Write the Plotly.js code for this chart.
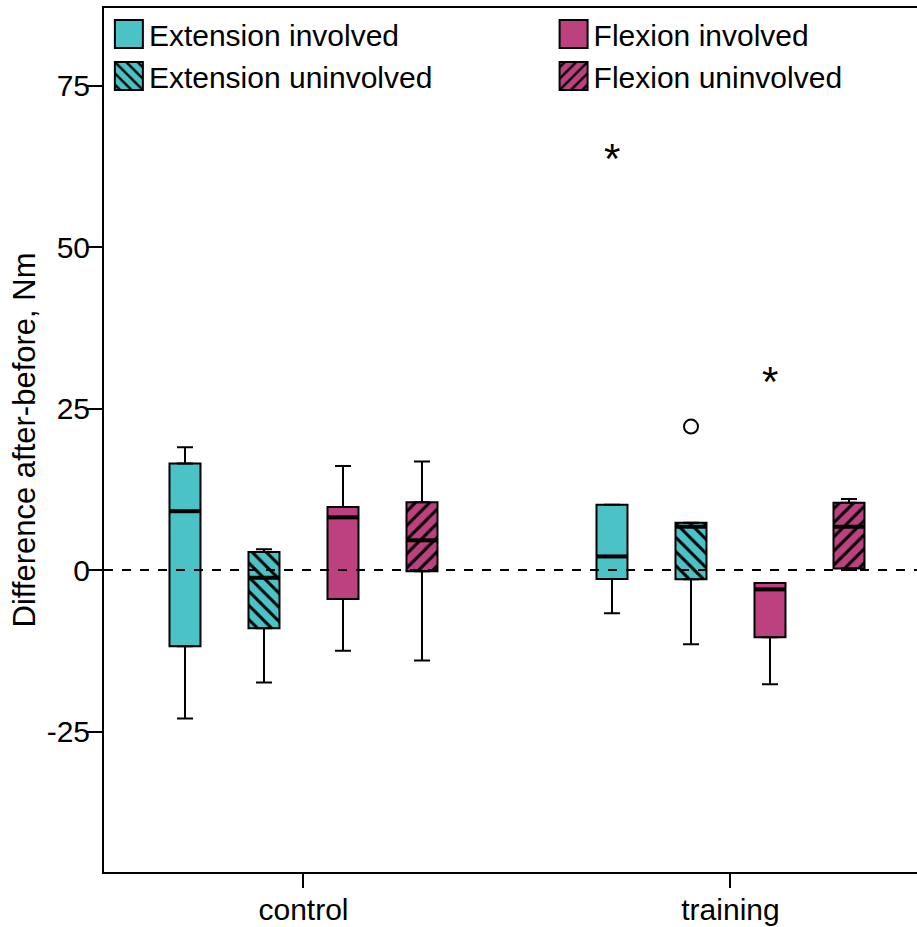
<!DOCTYPE html>
<html>
<head>
<meta charset="utf-8">
<script src="https://cdn.plot.ly/plotly-3.0.1.min.js"></script>
<style>
  html, body { margin: 0; padding: 0; background: #fff; }
  #chart { width: 917px; height: 927px; }
</style>
</head>
<body>
<div id="chart"></div>
<script>
// ---- Data ----
const categories = ['control', 'training'];
const seriesNames = ['Extension involved', 'Extension uninvolved', 'Flexion involved', 'Flexion uninvolved'];
// one row per series, one column per category
const lowerWhisker = [[-23.0, -6.7], [-17.4, -11.5], [-12.5, -17.7], [-14.0, 0.0]];
const quartile1    = [[-11.8, -1.4], [-9.0, -1.45], [-4.5, -10.4], [-0.2, 0.25]];
const medians      = [[9.1, 2.1], [-1.2, 6.7], [8.15, -3.0], [4.6, 6.7]];
const quartile3    = [[16.5, 10.1], [2.8, 7.3], [9.75, -2.0], [10.5, 10.4]];
const upperWhisker = [[19.0, 10.1], [3.2, 7.3], [16.1, -2.0], [16.8, 11.0]];
// outliers
const outlierSeries   = [0, 1, 2];
const outlierCategory = [1, 1, 1];
const outlierValues   = [64.5, 22.2, 29.9];
const outlierType     = ['extreme', 'outlier', 'extreme'];
const yTickValues = [-25, 0, 25, 50, 75];
const yTickLabels = ['-25', '0', '25', '50', '75'];
const yTitle = 'Difference after-before, Nm';

// ---- Styles ----
const fills = ['#4BC3C6', '#4BC3C6', '#BC417E', '#BC417E'];
const hatches = ['', '\\', '', '/'];
const legendIds = ['legend', 'legend', 'legend2', 'legend2'];
const spacing = 79 / 427;
const boxW = 31 / 427;
const FONT = '"Liberation Sans", Arial, Helvetica, sans-serif';
const xPos = (s, c) => c + (s - 1.5) * spacing;

const traces = [];
seriesNames.forEach((name, s) => {
  const xs = categories.map((_, c) => xPos(s, c));
  const marker = { color: fills[s], line: { color: 'black', width: 2 } };
  if (hatches[s]) {
    marker.pattern = { shape: hatches[s], fgcolor: 'black', bgcolor: fills[s], size: 10, solidity: 0.3, fillmode: 'replace' };
  }
  traces.push({
    type: 'bar', name: name, legend: legendIds[s],
    x: xs, base: quartile1[s],
    y: quartile3[s].map((v, i) => v - quartile1[s][i]),
    width: categories.map(() => boxW),
    marker: marker, hoverinfo: 'skip'
  });
});
seriesNames.forEach((name, s) => {
  const xs = categories.map((_, c) => xPos(s, c));
  traces.push({
    type: 'scatter', mode: 'markers', showlegend: false, hoverinfo: 'skip',
    x: xs, y: quartile3[s], marker: { opacity: 0, size: 1 },
    error_y: { type: 'data', symmetric: false,
      array: upperWhisker[s].map((v, i) => v - quartile3[s][i]),
      arrayminus: categories.map(() => 0),
      color: 'black', thickness: 2, width: 8 }
  });
  traces.push({
    type: 'scatter', mode: 'markers', showlegend: false, hoverinfo: 'skip',
    x: xs, y: quartile1[s], marker: { opacity: 0, size: 1 },
    error_y: { type: 'data', symmetric: false,
      array: categories.map(() => 0),
      arrayminus: quartile1[s].map((v, i) => v - lowerWhisker[s][i]),
      color: 'black', thickness: 2, width: 8 }
  });
  traces.push({
    type: 'scatter', mode: 'markers', showlegend: false, hoverinfo: 'skip',
    x: xs, y: medians[s],
    marker: { symbol: 'line-ew', size: 22, color: 'black', line: { width: 4, color: 'black' } }
  });
});
// outliers
const ext = outlierType.map((t, i) => t === 'extreme' ? i : -1).filter(i => i >= 0);
const out = outlierType.map((t, i) => t === 'outlier' ? i : -1).filter(i => i >= 0);
traces.push({
  type: 'scatter', mode: 'markers', showlegend: false, hoverinfo: 'skip',
  x: out.map(i => xPos(outlierSeries[i], outlierCategory[i])),
  y: out.map(i => outlierValues[i]),
  marker: { symbol: 'circle-open', size: 14, color: 'black', line: { width: 2, color: 'black' } }
});
const starAnnotations = ext.map(i => ({
  xref: 'x', yref: 'y',
  x: xPos(outlierSeries[i], outlierCategory[i]), y: outlierValues[i],
  text: '*', showarrow: false, xanchor: 'center', yanchor: 'middle', yshift: -5,
  font: { family: FONT, size: 42, color: 'black' }
}));

const legendCommon = {
  orientation: 'v', xanchor: 'left', yanchor: 'top', y: 1,
  bgcolor: 'rgba(0,0,0,0)', borderwidth: 0,
  font: { family: FONT, size: 30, color: 'black' },
  itemclick: false, itemdoubleclick: false
};

const layout = {
  width: 917, height: 927,
  margin: { l: 104, r: 0, t: 8, b: 55, autoexpand: false },
  paper_bgcolor: 'white', plot_bgcolor: 'white',
  font: { family: FONT, size: 30, color: 'black' },
  barmode: 'overlay',
  showlegend: true,
  legend: Object.assign({}, legendCommon, { x: 0.006 }),
  legend2: Object.assign({}, legendCommon, { x: 0.553 }),
  xaxis: {
    range: [-0.4672, 1.4368], tickmode: 'array', tickvals: [0, 1], ticktext: categories,
    showgrid: false, zeroline: false, showline: true, linecolor: 'black', linewidth: 2,
    mirror: true, ticks: 'outside', ticklen: 14, tickwidth: 2, tickcolor: 'black',
    ticklabelstandoff: -4,
    tickfont: { family: FONT, size: 30, color: 'black' }
  },
  yaxis: {
    range: [-46.75, 87.0], tickmode: 'array', tickvals: yTickValues, ticktext: yTickLabels,
    showgrid: false, zeroline: false, showline: true, linecolor: 'black', linewidth: 2,
    ticks: 'outside', ticklen: 15, tickwidth: 2, tickcolor: 'black',
    ticklabelstandoff: -9,
    tickfont: { family: FONT, size: 30, color: 'black' },
    title: { text: yTitle, font: { family: FONT, size: 31, color: 'black' }, standoff: 2 }
  },
  annotations: starAnnotations,
  shapes: [{
    type: 'line', xref: 'paper', x0: 0, x1: 1, yref: 'y', y0: 0, y1: 0, layer: 'above',
    line: { color: 'black', width: 2, dash: '9px,9px' }
  }]
};

const gd = document.getElementById('chart');
Plotly.newPlot(gd, traces, layout, { staticPlot: true, displayModeBar: false }).then(function () {
  gd.querySelectorAll('.legendpoints path').forEach(function (p) {
    p.setAttribute('d', 'M14,14H-14V-14H14Z');
  });
});
</script>
</body>
</html>
